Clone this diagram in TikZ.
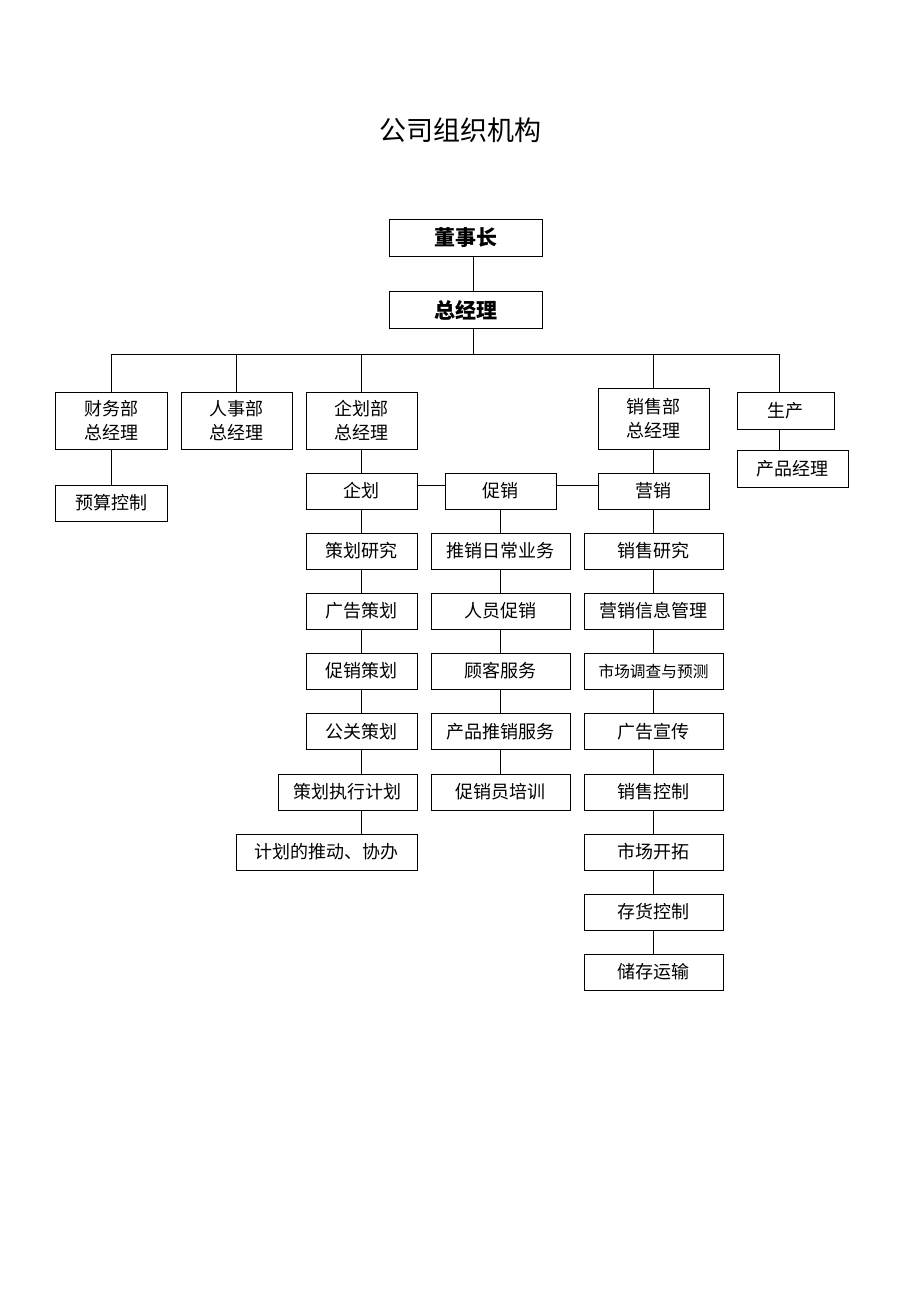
\documentclass[tikz,border=0pt]{standalone}
\usepackage{fontspec}
\setmainfont{Noto Sans CJK SC}
\begin{document}
\begin{tikzpicture}[x=1pt,y=-1pt,
    box/.style={draw,line width=1pt,inner sep=0pt,minimum width=111pt,minimum height=36pt,
      font=\fontsize{18}{24}\selectfont},
    wbox/.style={box,minimum width=139pt},
    tallbox/.style={box,minimum height=57pt,align=center},
    topbox/.style={box,minimum width=153pt,minimum height=37pt,
      font=\fontsize{21}{24}\selectfont\bfseries},
    conn/.style={line width=1pt}]

    \useasboundingbox (0,0) rectangle (920,1302);
    \node (title) at (460,130) {\fontsize{27}{30}\selectfont 公司组织机构};

    % top
    \node[topbox] (chair) at (465.5,237.5) {董事长};
    \node[topbox] (gm) at (465.5,310) {总经理};
    \coordinate (bus) at (473,354);
    \coordinate (busr) at (779,354);

    % departments
    \node[tallbox,minimum width=112pt] (fin) at (111,420.5) {财务部\\总经理};
    \node[tallbox] (hr) at (236.5,420.5) {人事部\\总经理};
    \node[tallbox] (plan) at (361.5,420.5) {企划部\\总经理};
    \node[tallbox,minimum height=61pt] (sales) at (653.5,418.5) {销售部\\总经理};
    \node[box,minimum width=97pt,minimum height=37pt] (prod) at (785.5,410.5) {生产};
    \node[box,minimum height=37pt] (pm) at (792.5,468.5) {产品经理};
    \node[box,minimum width=112pt] (budget) at (111,503) {预算控制};

    % second level
    \node[box] (qh) at (361.5,491) {企划};
    \node[box] (cx) at (500.5,491) {促销};
    \node[box] (yx) at (653.5,491) {营销};

    % planning column
    \node[box] (p1) at (361.5,551) {策划研究};
    \node[box] (p2) at (361.5,611) {广告策划};
    \node[box] (p3) at (361.5,671) {促销策划};
    \node[box] (p4) at (361.5,731.5) {公关策划};
    \node[wbox] (p5) at (347.5,792) {策划执行计划};
    \node[box,minimum width=181pt] (p6) at (326.5,852) {计划的推动、协办};

    % promotion column
    \node[wbox] (c1) at (500.5,551) {推销日常业务};
    \node[wbox] (c2) at (500.5,611) {人员促销};
    \node[wbox] (c3) at (500.5,671) {顾客服务};
    \node[wbox] (c4) at (500.5,731.5) {产品推销服务};
    \node[wbox] (c5) at (500.5,792) {促销员培训};

    % marketing column
    \node[wbox] (m1) at (653.5,551) {销售研究};
    \node[wbox] (m2) at (653.5,611) {营销信息管理};
    \node[wbox,font=\fontsize{15.7}{20}\selectfont] (m3) at (653.5,671) {市场调查与预测};
    \node[wbox] (m4) at (653.5,731.5) {广告宣传};
    \node[wbox] (m5) at (653.5,792) {销售控制};
    \node[wbox] (m6) at (653.5,852) {市场开拓};
    \node[wbox] (m7) at (653.5,912) {存货控制};
    \node[wbox] (m8) at (653.5,972) {储存运输};

    % connectors
    \draw[conn] (chair.south -| bus) -- (gm.north -| bus);
    \draw[conn] (gm.south -| bus) -- (bus);
    \draw[conn] (fin.north) |- (busr) -- (busr |- prod.north);
    \draw[conn] (hr.north) -- (hr.north |- bus);
    \draw[conn] (plan.north) -- (plan.north |- bus);
    \draw[conn] (sales.north) -- (sales.north |- bus);
    \draw[conn] (prod.south -| busr) -- (pm.north -| busr);
    \draw[conn] (fin) -- (budget);
    \draw[conn] (plan) -- (qh);
    \draw[conn] (sales) -- (yx);
    \draw[conn] ([yshift=6pt]qh.east) -- ([yshift=6pt]cx.west);
    \draw[conn] ([yshift=6pt]cx.east) -- ([yshift=6pt]yx.west);

    \draw[conn] (qh) -- (p1) (p1) -- (p2) (p2) -- (p3) (p3) -- (p4);
    \draw[conn] (p4.south) -- (p4.south |- p5.north);
    \draw[conn] (p4.south |- p5.south) -- (p4.south |- p6.north);
    \draw[conn] (cx) -- (c1) (c1) -- (c2) (c2) -- (c3) (c3) -- (c4) (c4) -- (c5);
    \draw[conn] (yx) -- (m1) (m1) -- (m2) (m2) -- (m3) (m3) -- (m4)
      (m4) -- (m5) (m5) -- (m6) (m6) -- (m7) (m7) -- (m8);

\end{tikzpicture}
\end{document}
